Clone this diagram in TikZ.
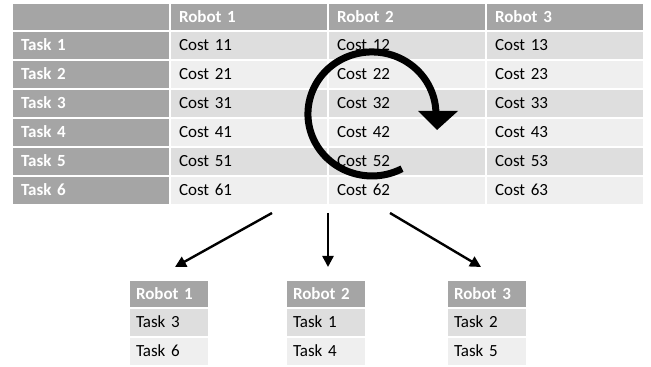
\documentclass[tikz,border=0pt]{standalone}
\usepackage{fontspec}
\setmainfont{Carlito}
\usetikzlibrary{arrows.meta}
\definecolor{hdrgray}{HTML}{A5A5A5}
\definecolor{rowdark}{HTML}{DEDEDE}
\definecolor{rowlight}{HTML}{EFEFEF}
\begin{document}
\begin{tikzpicture}[x=1pt,y=1pt,
  cellbase/.style={rectangle, draw=white, line width=2pt, inner ysep=0pt,
    text height=14pt, text depth=3pt, align=left,
    font=\fontsize{17}{20}\selectfont},
  bigcell/.style={cellbase, minimum width=158pt, text width=140pt, inner xsep=9pt},
  smallcell/.style={cellbase, minimum width=80pt, text width=66pt, inner xsep=7pt},
  hdr/.style={fill=hdrgray, text=white, font=\fontsize{17}{20}\selectfont\bfseries},
  arr/.style={line width=2.4pt, -{Triangle[length=11pt,width=11pt]}}]
\useasboundingbox[fill=white] (0,0) rectangle (651,367);

% cost matrix: header row
\node[bigcell, hdr, minimum height=28pt] (h0) at (91,350) {};
\foreach \c/\x in {1/249,2/407,3/565}
  \node[bigcell, hdr, minimum height=28pt] (h\c) at (\x,350) {Robot \c};

% cost matrix: task rows
\foreach \r/\y/\col in {1/321.5/rowdark,2/292.5/rowlight,3/263.5/rowdark,
                        4/234.5/rowlight,5/205.5/rowdark,6/176.5/rowlight}{
  \node[bigcell, hdr, minimum height=29pt] (r\r) at (91,\y) {Task \r};
  \foreach \c/\x in {1/249,2/407,3/565}
    \node[bigcell, fill=\col, minimum height=29pt] (c\r\c) at (\x,\y) {Cost \r\c};
}

% rotating arrow over the matrix
\draw[line width=7pt] (402,198.3) arc[start angle=-62, end angle=-358, x radius=64pt, y radius=62pt];
\fill (418,256) -- (458,256) -- (437,237) -- cycle;

% assignment tables
\foreach \k/\x/\ta/\tb in {1/169/3/6, 2/326/1/4, 3/487/2/5}{
  \node[smallcell, hdr, minimum height=28pt] (b\k h) at (\x,73) {Robot \k};
  \node[smallcell, fill=rowdark, minimum height=29pt] (b\k a) at (\x,44.5) {Task \ta};
  \node[smallcell, fill=rowlight, minimum height=29pt] (b\k b) at (\x,15.5) {Task \tb};
}

% split arrows
\coordinate (s1) at (272,154);
\coordinate (s2) at (328,154);
\coordinate (s3) at (390,154);
\draw[arr] (s1) -- ([xshift=6pt,yshift=12pt]b1h.north);
\draw[arr] (s2) -- ([xshift=2pt,yshift=12pt]b2h.north);
\draw[arr] (s3) -- ([xshift=-6pt,yshift=12pt]b3h.north);
\end{tikzpicture}
\end{document}
